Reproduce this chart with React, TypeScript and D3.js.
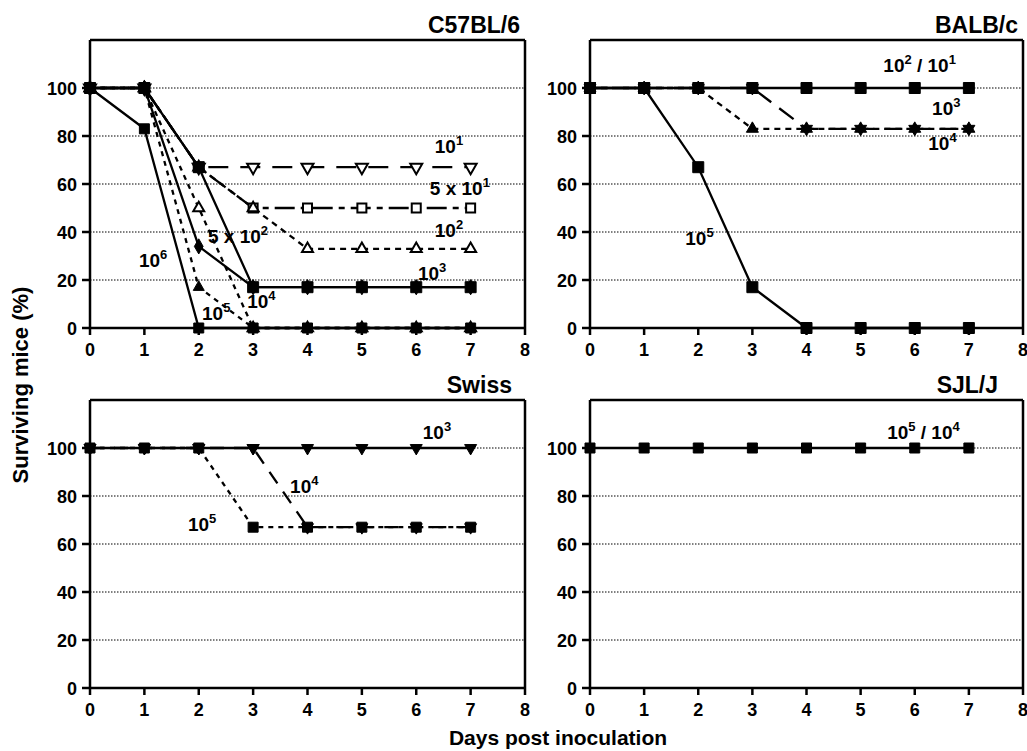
import { scaleLinear, line, symbol, symbolSquare, symbolTriangle, symbolDiamond } from "d3";

const FONT = "'Liberation Sans', Arial, Helvetica, sans-serif";

const days = [0, 1, 2, 3, 4, 5, 6, 7];
const xTicks = [0, 1, 2, 3, 4, 5, 6, 7, 8];
const yTicks = [0, 20, 40, 60, 80, 100];
const gridTicks = [20, 40, 60, 80, 100];

// C57BL/6
const c57_1e1 = [100, 100, 67, 67, 67, 67, 67, 67];
const c57_5e1 = [100, 100, 67, 50, 50, 50, 50, 50];
const c57_1e2 = [100, 100, 67, 50, 33, 33, 33, 33];
const c57_5e2 = [100, 100, 50, 0, 0, 0, 0, 0];
const c57_1e3 = [100, 100, 67, 17, 17, 17, 17, 17];
const c57_1e4 = [100, 100, 34, 17, 17, 17, 17, 17];
const c57_1e5 = [100, 100, 17, 0, 0, 0, 0, 0];
const c57_1e6 = [100, 83, 0, 0, 0, 0, 0, 0];

// BALB/c
const balb_1e2 = [100, 100, 100, 100, 100, 100, 100, 100];
const balb_1e3 = [100, 100, 100, 100, 83, 83, 83, 83];
const balb_1e4 = [100, 100, 100, 83, 83, 83, 83, 83];
const balb_1e5 = [100, 100, 67, 17, 0, 0, 0, 0];

// Swiss
const swiss_1e3 = [100, 100, 100, 100, 100, 100, 100, 100];
const swiss_1e4 = [100, 100, 100, 100, 67, 67, 67, 67];
const swiss_1e5 = [100, 100, 100, 67, 67, 67, 67, 67];

// SJL/J
const sjl_1e5 = [100, 100, 100, 100, 100, 100, 100, 100];

type Series = { values: number[]; dash?: string; marker: string; open?: boolean; size: number };
type Label = { parts: [string, boolean][]; day: number; pct: number };
type PanelDef = {
  title: string;
  titleRight: number;
  left: number;
  right: number;
  top: number;
  bottom: number;
  series: Series[];
  labels: Label[];
};

const panels: PanelDef[] = [
  {
    title: "C57BL/6",
    titleRight: 520,
    left: 90,
    right: 525,
    top: 40,
    bottom: 328,
    series: [
      { values: c57_1e1, dash: "20,12", marker: "triDown", open: true, size: 12 },
      { values: c57_5e1, dash: "6,6,20,6", marker: "square", open: true, size: 9 },
      { values: c57_1e2, dash: "6,5", marker: "triUp", open: true, size: 11 },
      { values: c57_5e2, dash: "5,5", marker: "triUp", open: true, size: 11 },
      { values: c57_1e5, dash: "5,5", marker: "triUp", size: 11 },
      { values: c57_1e6, marker: "square", size: 10 },
      { values: c57_1e3, marker: "square", size: 11 },
      { values: c57_1e4, marker: "diamond", size: 11 },
    ],
    labels: [
      { parts: [["10", false], ["1", true]], day: 6.34, pct: 73 },
      { parts: [["5 x 10", false], ["1", true]], day: 6.25, pct: 55.4 },
      { parts: [["10", false], ["2", true]], day: 6.34, pct: 38 },
      { parts: [["10", false], ["3", true]], day: 6.03, pct: 20 },
      { parts: [["10", false], ["4", true]], day: 2.89, pct: 8.3 },
      { parts: [["10", false], ["5", true]], day: 2.06, pct: 3.3 },
      { parts: [["10", false], ["6", true]], day: 0.9, pct: 25.4 },
      { parts: [["5 x 10", false], ["2", true]], day: 2.17, pct: 35.4 },
    ],
  },
  {
    title: "BALB/c",
    titleRight: 1018,
    left: 590,
    right: 1023,
    top: 40,
    bottom: 328,
    series: [
      { values: balb_1e2, marker: "square", size: 11 },
      { values: balb_1e4, dash: "6,5", marker: "triUp", size: 12 },
      { values: balb_1e3, dash: "18,10", marker: "triDown", size: 12 },
      { values: balb_1e5, marker: "square", size: 11 },
    ],
    labels: [
      { parts: [["10", false], ["2", true], [" / 10", false], ["1", true]], day: 5.42, pct: 106.7 },
      { parts: [["10", false], ["3", true]], day: 6.32, pct: 88.8 },
      { parts: [["10", false], ["4", true]], day: 6.25, pct: 74.2 },
      { parts: [["10", false], ["5", true]], day: 1.76, pct: 34.6 },
    ],
  },
  {
    title: "Swiss",
    titleRight: 512,
    left: 90,
    right: 525,
    top: 400,
    bottom: 688,
    series: [
      { values: swiss_1e3, marker: "triDown", size: 12 },
      { values: swiss_1e4, dash: "14,10", marker: "triDown", size: 12 },
      { values: swiss_1e5, dash: "5,5", marker: "square", size: 10 },
    ],
    labels: [
      { parts: [["10", false], ["3", true]], day: 6.12, pct: 103.7 },
      { parts: [["10", false], ["5", true]], day: 1.8, pct: 65.6 },
      { parts: [["10", false], ["4", true]], day: 3.68, pct: 81.3 },
    ],
  },
  {
    title: "SJL/J",
    titleRight: 998,
    left: 590,
    right: 1023,
    top: 400,
    bottom: 688,
    series: [{ values: sjl_1e5, marker: "square", size: 10 }],
    labels: [
      { parts: [["10", false], ["5", true], [" / 10", false], ["4", true]], day: 5.49, pct: 103.7 },
    ],
  },
];

function Marker({ s, cx, cy }: { s: Series; cx: number; cy: number }) {
  const type = s.marker;
  const sym = type === "square" ? symbolSquare : type === "diamond" ? symbolDiamond : symbolTriangle;
  const area = type === "square" ? s.size * s.size : type === "diamond" ? s.size * s.size * 0.55 : s.size * s.size * 0.433;
  const d = symbol(sym, area)() || "";
  const rot = type === "triDown" ? 180 : 0;
  return (
    <path
      d={d}
      transform={`translate(${cx},${cy}) rotate(${rot})`}
      fill={s.open ? "#fff" : "#000"}
      stroke="#000"
      strokeWidth={s.open ? 2 : 1}
    />
  );
}

function AnnoText({ label, x, y }: { label: Label; x: number; y: number }) {
  let up = false;
  return (
    <text x={x} y={y} fontSize={19} fontWeight="bold" fontFamily={FONT} fill="#000">
      {label.parts.map(([t, sup], i) => {
        let dy = 0;
        if (sup && !up) dy = -8;
        if (!sup && up) dy = 8;
        up = sup;
        return (
          <tspan key={i} dy={dy} fontSize={sup ? 13 : 19}>
            {t}
          </tspan>
        );
      })}
    </text>
  );
}

function Panel({ p }: { p: PanelDef }) {
  const x = scaleLinear().domain([0, 8]).range([p.left, p.right]);
  const y = scaleLinear().domain([0, 120]).range([p.bottom, p.top]);
  const gen = line<number>()
    .x((_, i) => x(days[i]))
    .y((d) => y(d));
  const drawOrder = [...p.series].sort((a, b) => Number(!!b.open) - Number(!!a.open));

  return (
    <g>
      {/* gridlines */}
      {gridTicks.map((t) => (
        <line key={t} x1={p.left} x2={p.right} y1={y(t)} y2={y(t)} stroke="#000" strokeWidth={1} strokeDasharray="1.5,1.5" />
      ))}
      {/* frame */}
      <line x1={p.left} x2={p.right} y1={p.top} y2={p.top} stroke="#000" strokeWidth={2.5} />
      <line x1={p.right} x2={p.right} y1={p.top} y2={p.bottom} stroke="#000" strokeWidth={2.5} />
      <line x1={p.left} x2={p.right} y1={p.bottom} y2={p.bottom} stroke="#000" strokeWidth={2.5} />
      <line x1={p.left} x2={p.left} y1={p.top} y2={p.bottom} stroke="#000" strokeWidth={2.5} />
      {yTicks.map((t) => (
        <g key={t}>
          <line x1={p.left - 8} x2={p.left} y1={y(t)} y2={y(t)} stroke="#000" strokeWidth={2.5} />
          <text x={p.left - 13} y={y(t) + 6.5} textAnchor="end" fontSize={18} fontWeight="bold" fontFamily={FONT}>
            {t}
          </text>
        </g>
      ))}
      {xTicks.map((t) => (
        <g key={t}>
          <line x1={x(t)} x2={x(t)} y1={p.bottom} y2={p.bottom + 7} stroke="#000" strokeWidth={2.5} />
          <text x={x(t)} y={p.bottom + 28} textAnchor="middle" fontSize={18} fontWeight="bold" fontFamily={FONT}>
            {t}
          </text>
        </g>
      ))}
      {/* lines */}
      {p.series.map((s, i) => (
        <path key={i} d={gen(s.values) || ""} fill="none" stroke="#000" strokeWidth={2.3} strokeDasharray={s.dash} />
      ))}
      {/* markers */}
      {drawOrder.map((s, i) => (
        <g key={i}>
          {s.values.map((v, j) => (
            <Marker key={j} s={s} cx={x(days[j])} cy={y(v)} />
          ))}
        </g>
      ))}
      {p.labels.map((l, i) => (
        <AnnoText key={i} label={l} x={x(l.day)} y={y(l.pct)} />
      ))}
      <text x={p.titleRight} y={p.top - 7} textAnchor="end" fontSize={23} fontWeight="bold" fontFamily={FONT}>
        {p.title}
      </text>
    </g>
  );
}

export default function App() {
  return (
    <svg
      width={1027}
      height={751}
      style={{ position: "absolute", left: 0, top: 0, background: "#fff" }}
    >
      <rect width={1027} height={751} fill="#fff" />
      {panels.map((p) => (
        <Panel key={p.title} p={p} />
      ))}
      <text
        transform="translate(28,385) rotate(-90)"
        textAnchor="middle"
        fontSize={22}
        fontWeight="bold"
        fontFamily={FONT}
      >
        Surviving mice (%)
      </text>
      <text x={558} y={745} textAnchor="middle" fontSize={21} fontWeight="bold" fontFamily={FONT}>
        Days post inoculation
      </text>
    </svg>
  );
}
